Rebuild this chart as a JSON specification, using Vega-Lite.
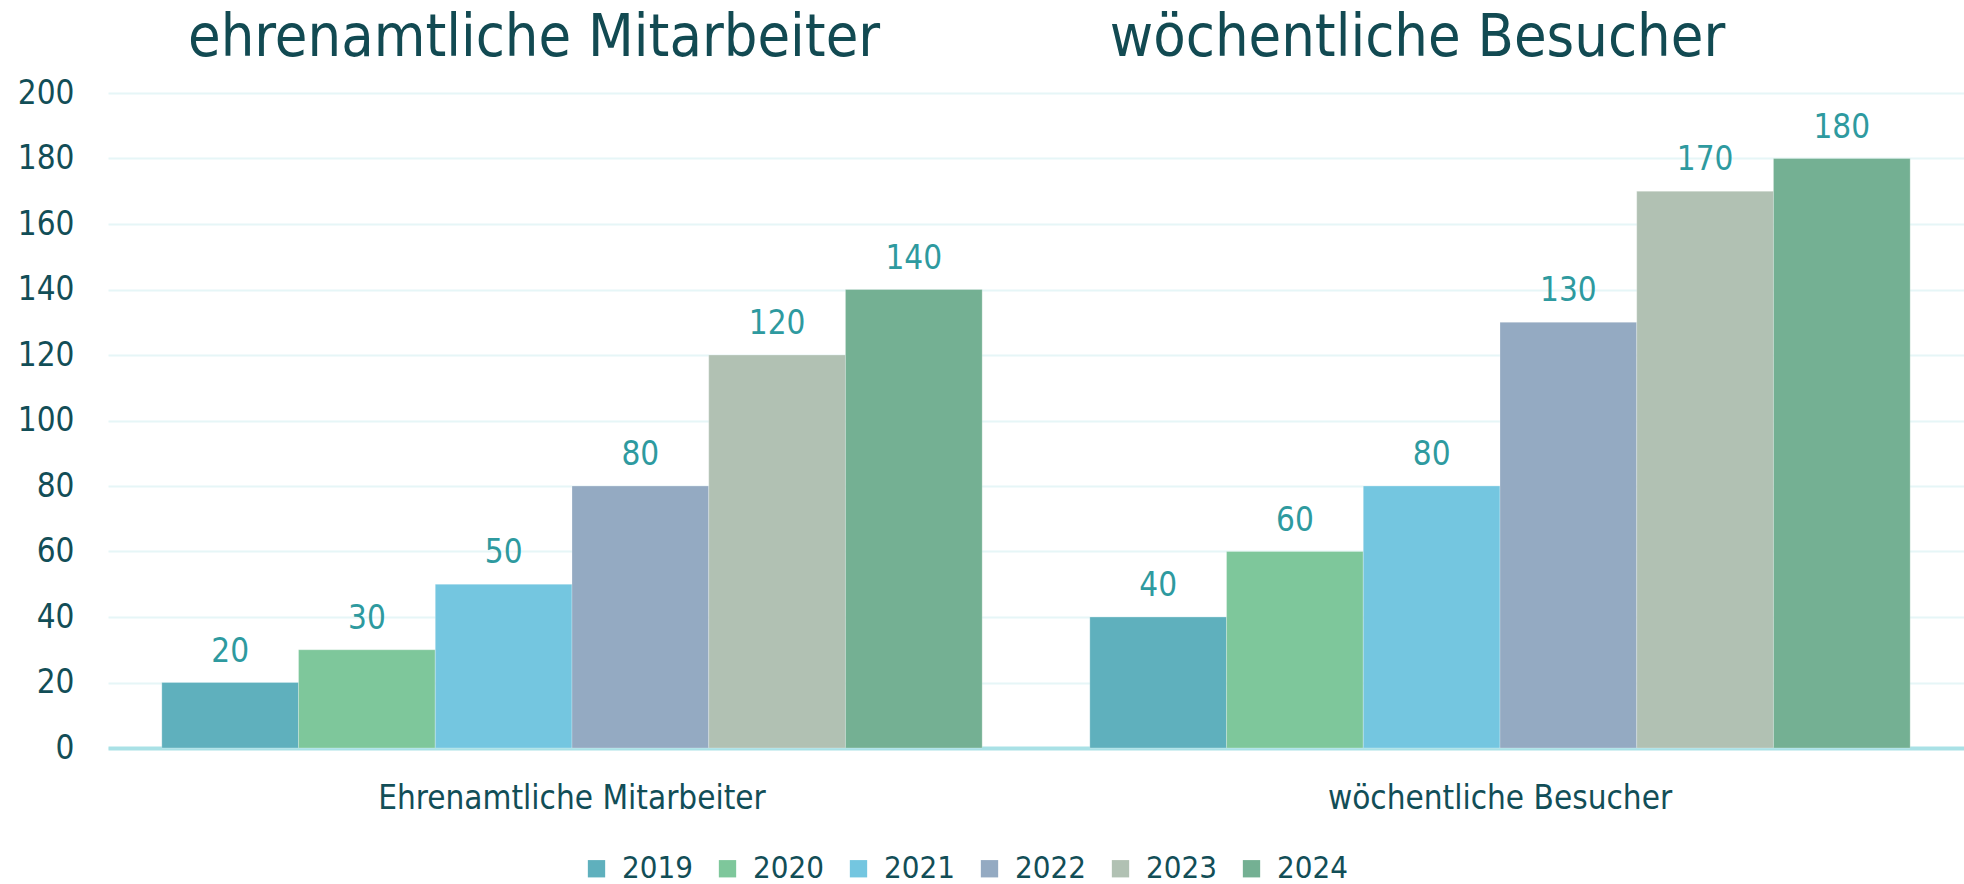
{
  "$schema": "https://vega.github.io/schema/vega-lite/v6.json",
  "autosize": {"type": "none"},
  "width": 1856,
  "height": 655,
  "padding": {"left": 108, "top": 93, "right": 0, "bottom": 136},
  "background": "#ffffff",
  "title": {
    "text": "ehrenamtliche Mitarbeiter\u00a0\u00a0\u00a0\u00a0\u00a0\u00a0\u00a0\u00a0\u00a0\u00a0\u00a0\u00a0\u00a0\u2009wöchentliche Besucher",
    "anchor": "start",
    "frame": "group",
    "dx": 80,
    "offset": 9,
    "font": "DejaVu Sans Condensed",
    "fontSize": 59,
    "fontWeight": "normal",
    "color": "#124a52"
  },
  "config": {
    "view": {"stroke": null},
    "font": "DejaVu Sans Condensed"
  },
  "data": {
    "values": [
      {"kategorie": "Ehrenamtliche Mitarbeiter", "jahr": "2019", "wert": 20},
      {"kategorie": "Ehrenamtliche Mitarbeiter", "jahr": "2020", "wert": 30},
      {"kategorie": "Ehrenamtliche Mitarbeiter", "jahr": "2021", "wert": 50},
      {"kategorie": "Ehrenamtliche Mitarbeiter", "jahr": "2022", "wert": 80},
      {"kategorie": "Ehrenamtliche Mitarbeiter", "jahr": "2023", "wert": 120},
      {"kategorie": "Ehrenamtliche Mitarbeiter", "jahr": "2024", "wert": 140},
      {"kategorie": "wöchentliche Besucher", "jahr": "2019", "wert": 40},
      {"kategorie": "wöchentliche Besucher", "jahr": "2020", "wert": 60},
      {"kategorie": "wöchentliche Besucher", "jahr": "2021", "wert": 80},
      {"kategorie": "wöchentliche Besucher", "jahr": "2022", "wert": 130},
      {"kategorie": "wöchentliche Besucher", "jahr": "2023", "wert": 170},
      {"kategorie": "wöchentliche Besucher", "jahr": "2024", "wert": 180}
    ]
  },
  "encoding": {
    "x": {
      "field": "kategorie",
      "type": "nominal",
      "sort": ["Ehrenamtliche Mitarbeiter", "wöchentliche Besucher"],
      "scale": {"paddingInner": 0.116, "paddingOuter": 0.058},
      "axis": {
        "title": null,
        "labelAngle": 0,
        "ticks": false,
        "labelPadding": 34,
        "labelLimit": 800,
        "labelFontSize": 33,
        "labelColor": "#124e57",
        "labelFont": "DejaVu Sans Condensed",
        "domainColor": "#a9e1e6",
        "domainWidth": 4
      }
    },
    "xOffset": {
      "field": "jahr",
      "type": "nominal",
      "scale": {"paddingInner": 0, "paddingOuter": 0}
    },
    "y": {
      "field": "wert",
      "type": "quantitative",
      "scale": {"domain": [0, 200], "nice": false},
      "axis": {
        "title": null,
        "values": [0, 20, 40, 60, 80, 100, 120, 140, 160, 180, 200],
        "domain": false,
        "ticks": false,
        "labelPadding": 34,
        "labelFontSize": 33,
        "labelColor": "#124e57",
        "labelFont": "DejaVu Sans Condensed",
        "gridColor": "#e6f6f7",
        "gridWidth": 2
      }
    }
  },
  "layer": [
    {
      "mark": {"type": "bar", "stroke": "#ffffff", "strokeOpacity": 0.25, "strokeWidth": 1},
      "encoding": {
        "color": {
          "field": "jahr",
          "type": "nominal",
          "scale": {
            "domain": ["2019", "2020", "2021", "2022", "2023", "2024"],
            "range": ["#5fb0bd", "#7ec79b", "#74c6e0", "#94aac2", "#b1c1b3", "#74b093"]
          },
          "legend": {
            "title": null,
            "orient": "none",
            "direction": "horizontal",
            "legendX": 473,
            "legendY": 760,
            "symbolType": "square",
            "symbolSize": 300,
            "symbolStrokeWidth": 0,
            "labelFontSize": 31,
            "labelColor": "#124e57",
            "labelFont": "DejaVu Sans Condensed",
            "labelOffset": 10,
            "columnPadding": 19
          }
        }
      }
    },
    {
      "mark": {
        "type": "text",
        "baseline": "bottom",
        "dy": -14,
        "fontSize": 33,
        "font": "DejaVu Sans Condensed",
        "color": "#2e9a9f"
      },
      "encoding": {
        "text": {"field": "wert", "type": "quantitative"}
      }
    }
  ]
}
